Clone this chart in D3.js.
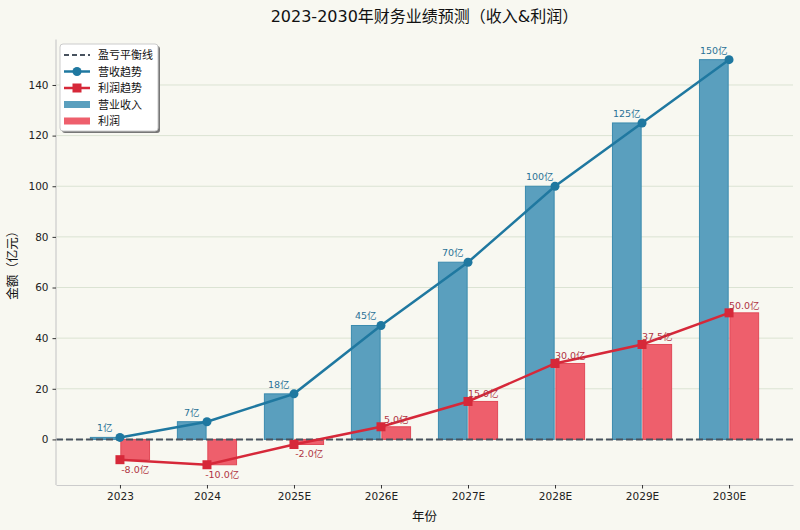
<!DOCTYPE html>
<html>
<head>
<meta charset="utf-8">
<script src="https://cdn.jsdelivr.net/npm/d3@7"></script>
<style>
  html, body { margin: 0; padding: 0; background: #f8f8f1; }
  svg { display: block; font-family: "DejaVu Sans", "Noto Sans CJK SC", sans-serif; }
</style>
</head>
<body>
<svg id="chart"></svg>
<script>
// data
let years = ['2023', '2024', '2025E', '2026E', '2027E', '2028E', '2029E', '2030E'];
let revenue = [0.8, 7, 18, 45, 70, 100, 125, 150];
let profit = [-8, -10, -2, 5, 15, 30, 37.5, 50];
let yTicks = [0, 20, 40, 60, 80, 100, 120, 140];

let width = 800;
let height = 530;
let padLeft = 56, padRight = 793, padTop = 39.4, padBottom = 485;

let blueBar = '#5a9fbe', blueEdge = '#3b8bae', blueLine = '#1f78a0';
let redBar = '#ee5f6c', redEdge = '#e04a58', redLine = '#d62839';

let svg = d3.select('#chart').attr('width', width).attr('height', height);

let xScale = d3.scaleLinear().domain([-0.735, years.length - 1 + 0.735]).range([padLeft, padRight]);
let yScale = d3.scaleLinear().domain([-18, 158]).range([padBottom, padTop]);
let step = xScale(1) - xScale(0);
let barW = step * 0.33;
let off = step * 0.175;

// grid
svg.append('g')
    .selectAll('line')
    .data(yTicks)
    .enter()
    .append('line')
    .attr('x1', padLeft).attr('x2', padRight)
    .attr('y1', d => yScale(d)).attr('y2', d => yScale(d))
    .attr('stroke', '#dbe3d3').attr('stroke-width', 1);

// bars
svg.append('g')
    .selectAll('rect')
    .data(revenue)
    .enter()
    .append('rect')
    .attr('x', (d, i) => xScale(i) - off - barW / 2)
    .attr('width', barW)
    .attr('y', d => yScale(Math.max(d, 0)))
    .attr('height', d => Math.abs(yScale(d) - yScale(0)))
    .attr('fill', blueBar).attr('stroke', blueEdge).attr('stroke-width', 1);

svg.append('g')
    .selectAll('rect')
    .data(profit)
    .enter()
    .append('rect')
    .attr('x', (d, i) => xScale(i) + off - barW / 2)
    .attr('width', barW)
    .attr('y', d => yScale(Math.max(d, 0)))
    .attr('height', d => Math.abs(yScale(d) - yScale(0)))
    .attr('fill', redBar).attr('stroke', redEdge).attr('stroke-width', 1);

// zero line
svg.append('line')
    .attr('x1', padLeft).attr('x2', padRight)
    .attr('y1', yScale(0)).attr('y2', yScale(0))
    .attr('stroke', '#48525e').attr('stroke-width', 2)
    .attr('stroke-dasharray', '7,3');

// lines
let line = d3.line().x((d, i) => xScale(i)).y(d => yScale(d));

svg.append('path')
    .datum(revenue)
    .attr('d', line)
    .attr('fill', 'none').attr('stroke', blueLine).attr('stroke-width', 2.5);

svg.append('g')
    .selectAll('circle')
    .data(revenue)
    .enter()
    .append('circle')
    .attr('cx', (d, i) => xScale(i)).attr('cy', d => yScale(d))
    .attr('r', 4.5).attr('fill', blueLine);

svg.append('path')
    .datum(profit)
    .attr('d', line)
    .attr('fill', 'none').attr('stroke', redLine).attr('stroke-width', 2.5);

svg.append('g')
    .selectAll('rect')
    .data(profit)
    .enter()
    .append('rect')
    .attr('x', (d, i) => xScale(i) - 4.5).attr('y', d => yScale(d) - 4.5)
    .attr('width', 9).attr('height', 9)
    .attr('fill', redLine);

// value labels
svg.append('g')
    .selectAll('text')
    .data(revenue)
    .enter()
    .append('text')
    .attr('x', (d, i) => xScale(i) - off)
    .attr('y', d => yScale(d) - 6)
    .attr('text-anchor', 'middle')
    .attr('font-size', 9.5)
    .attr('fill', '#2a7196')
    .text(d => Math.round(d) + '亿');

svg.append('g')
    .selectAll('text')
    .data(profit)
    .enter()
    .append('text')
    .attr('x', (d, i) => xScale(i) + off)
    .attr('y', d => d >= 0 ? yScale(d) - 4 : yScale(d) + 13)
    .attr('text-anchor', 'middle')
    .attr('font-size', 9.5)
    .attr('fill', '#b03444')
    .text(d => d.toFixed(1) + '亿');

// axes
let xAxis = d3.axisBottom(xScale)
    .tickValues(d3.range(years.length))
    .tickFormat(i => years[i])
    .tickSize(3.5).tickSizeOuter(0).tickPadding(4);

let yAxis = d3.axisLeft(yScale)
    .tickValues(yTicks)
    .tickSize(3.5).tickSizeOuter(0).tickPadding(4);

let gx = svg.append('g')
    .attr('transform', `translate(0, ${padBottom})`)
    .call(xAxis);

let gy = svg.append('g')
    .attr('transform', `translate(${padLeft}, 0)`)
    .call(yAxis);

[gx, gy].forEach(g => {
    g.select('.domain').attr('stroke', '#cccccc').attr('stroke-width', 1.2);
    g.selectAll('.tick line').attr('stroke', '#333');
    g.selectAll('.tick text').attr('font-size', 10.5).attr('fill', '#222')
        .attr('font-family', '"DejaVu Sans", sans-serif');
});
gy.select('.domain').attr('d', `M0,${padTop}V${padBottom}`);

// title and axis labels
svg.append('text')
    .attr('x', (padLeft + padRight) / 2).attr('y', 22)
    .attr('text-anchor', 'middle')
    .attr('font-size', 16).attr('fill', '#111')
    .text('2023-2030年财务业绩预测（收入&利润）');

svg.append('text')
    .attr('x', (padLeft + padRight) / 2).attr('y', 521)
    .attr('text-anchor', 'middle')
    .attr('font-size', 12.5).attr('fill', '#111')
    .text('年份');

svg.append('text')
    .attr('transform', `translate(17, ${(padTop + padBottom) / 2}) rotate(-90)`)
    .attr('text-anchor', 'middle')
    .attr('font-size', 12.5).attr('fill', '#111')
    .text('金额（亿元）');

// legend
let lg = svg.append('g').attr('transform', 'translate(60, 44)');
lg.append('rect')
    .attr('x', 2).attr('y', 2).attr('width', 98).attr('height', 87).attr('rx', 3)
    .attr('fill', '#777');
lg.append('rect')
    .attr('width', 98).attr('height', 87).attr('rx', 3)
    .attr('fill', '#ffffff').attr('stroke', '#cccccc');

let items = ['盈亏平衡线', '营收趋势', '利润趋势', '营业收入', '利润'];
items.forEach((name, i) => {
    let cy = 11 + i * 16.5;
    let row = lg.append('g').attr('transform', `translate(0, ${cy})`);
    if (i === 0) {
        row.append('line').attr('x1', 4).attr('x2', 30).attr('stroke', '#48525e')
            .attr('stroke-width', 1.8).attr('stroke-dasharray', '5,3');
    } else if (i === 1) {
        row.append('line').attr('x1', 4).attr('x2', 30).attr('stroke', blueLine).attr('stroke-width', 2.5);
        row.append('circle').attr('cx', 17).attr('r', 4.5).attr('fill', blueLine);
    } else if (i === 2) {
        row.append('line').attr('x1', 4).attr('x2', 30).attr('stroke', redLine).attr('stroke-width', 2.5);
        row.append('rect').attr('x', 12.5).attr('y', -4.5).attr('width', 9).attr('height', 9).attr('fill', redLine);
    } else {
        row.append('rect').attr('x', 4).attr('y', -3.5).attr('width', 26).attr('height', 7)
            .attr('fill', i === 3 ? blueBar : redBar);
    }
    row.append('text').attr('x', 38).attr('y', 4).attr('font-size', 11).attr('fill', '#111').text(name);
});
</script>
</body>
</html>
